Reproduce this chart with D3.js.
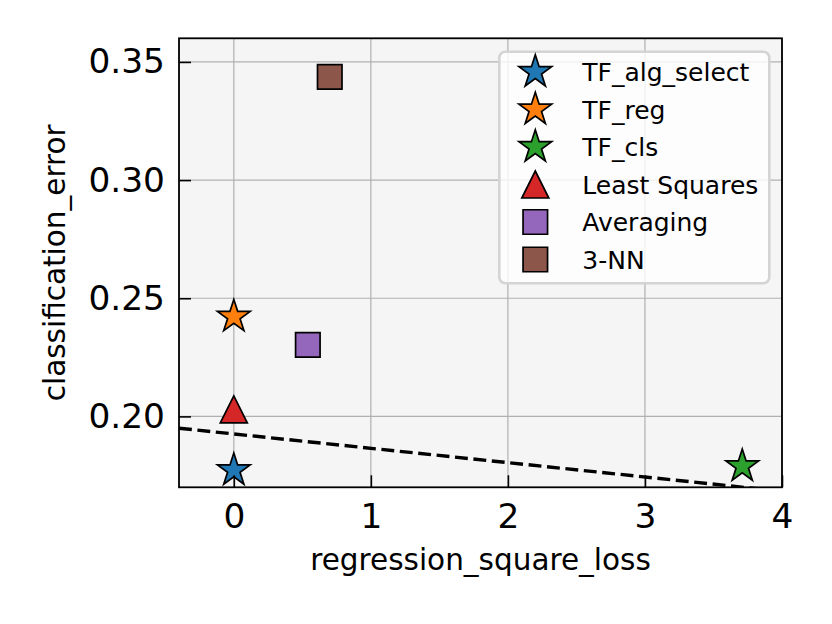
<!DOCTYPE html>
<html>
<head>
<meta charset="utf-8">
<script src="https://cdn.jsdelivr.net/npm/d3@7"></script>
<style>
  body { margin: 0; background: #fff; }
  svg { display: block; }
  text { font-family: "DejaVu Sans", sans-serif; fill: #000; }
</style>
</head>
<body>
<div id="chart"></div>
<script>
// data
var methods = ["TF_alg_select", "TF_reg", "TF_cls", "Least Squares", "Averaging", "3-NN"];
var lossValues = [0, 0, 3.71, 0, 0.54, 0.70];
var errorValues = [0.1772, 0.2422, 0.1789, 0.2030, 0.2303, 0.3437];
var markerShapes = ["star", "star", "star", "triangle", "square", "square"];
var markerColors = ["#1f77b4", "#ff7f0e", "#2ca02c", "#d62728", "#9467bd", "#8c564b"];
var xTicks = [0, 1, 2, 3, 4];
var yTicks = [0.20, 0.25, 0.30, 0.35];
var frontierX = [-0.4, 4];
var frontierY = [0.1950, 0.1683];

var width = 832;
var height = 624;
var margin = { left: 179, top: 38.3, right: 832 - 782, bottom: 624 - 487.3 };
var plotW = width - margin.left - margin.right;
var plotH = height - margin.top - margin.bottom;

var svg = d3.select("#chart")
    .append("svg")
    .attr("width", width)
    .attr("height", height);

var x = d3.scaleLinear().domain([-0.4, 4]).range([0, plotW]);
var y = d3.scaleLinear().domain([0.17, 0.36]).range([plotH, 0]);

var g = svg.append("g")
    .attr("transform", "translate(" + margin.left + "," + margin.top + ")");

g.append("rect")
    .attr("width", plotW)
    .attr("height", plotH)
    .attr("fill", "#f5f5f5");

g.append("clipPath").attr("id", "clip")
  .append("rect").attr("width", plotW).attr("height", plotH);

// grid
g.append("g").selectAll("line").data(xTicks).enter()
    .append("line")
    .attr("x1", d => x(d)).attr("x2", d => x(d))
    .attr("y1", 0).attr("y2", plotH)
    .attr("stroke", "#b0b0b0").attr("stroke-width", 1.2);
g.append("g").selectAll("line").data(yTicks).enter()
    .append("line")
    .attr("x1", 0).attr("x2", plotW)
    .attr("y1", d => y(d)).attr("y2", d => y(d))
    .attr("stroke", "#b0b0b0").attr("stroke-width", 1.2);

// dashed frontier
var lineGen = d3.line().x(d => x(d[0])).y(d => y(d[1]));
g.append("path")
    .datum(d3.zip(frontierX, frontierY))
    .attr("clip-path", "url(#clip)")
    .attr("d", lineGen)
    .attr("fill", "none")
    .attr("stroke", "#000")
    .attr("stroke-width", 3.4)
    .attr("stroke-dasharray", "12.9,5.6");

// marker shapes
function markerPath(shape) {
  if (shape === "star") {
    var R = 17.2;
    return d3.symbol().type(d3.symbolStar).size(R * R / 0.8908130915292852)();
  }
  if (shape === "triangle") {
    var h = 13.5;
    return "M0," + (-h) + "L" + (-h) + "," + h + "L" + h + "," + h + "Z";
  }
  return d3.symbol().type(d3.symbolSquare).size(24.5 * 24.5)();
}

var points = methods.map((m, i) => ({
  name: m, lx: lossValues[i], ly: errorValues[i],
  shape: markerShapes[i], color: markerColors[i]
}));

g.append("g").selectAll("path").data(points).enter()
    .append("path")
    .attr("transform", d => "translate(" + x(d.lx) + "," + y(d.ly) + ")")
    .attr("d", d => markerPath(d.shape))
    .attr("fill", d => d.color)
    .attr("stroke", "#000")
    .attr("stroke-width", 1.7)
    .attr("stroke-linejoin", "miter");

// axes, ticks pointing in
var xAxis = d3.axisBottom(x).tickValues(xTicks).tickSize(-12).tickSizeOuter(0).tickPadding(16)
    .tickFormat(d3.format("d"));
var yAxis = d3.axisLeft(y).tickValues(yTicks).tickSize(-12).tickSizeOuter(0).tickPadding(14)
    .tickFormat(d3.format(".2f"));

var gx = g.append("g").attr("transform", "translate(0," + plotH + ")").call(xAxis);
var gy = g.append("g").call(yAxis);
[gx, gy].forEach(a => {
  a.select(".domain").remove();
  a.selectAll(".tick line").attr("stroke", "#000").attr("stroke-width", 1.6);
  a.selectAll(".tick text").style("font-size", "34.4px").style("font-family", "DejaVu Sans");
});

// frame
g.append("rect")
    .attr("width", plotW)
    .attr("height", plotH)
    .attr("fill", "none")
    .attr("stroke", "#000")
    .attr("stroke-width", 1.8);

// axis labels
svg.append("text")
    .attr("x", margin.left + plotW / 2)
    .attr("y", 570)
    .attr("text-anchor", "middle")
    .style("font-size", "29.5px")
    .text("regression_square_loss");

svg.append("text")
    .attr("transform", "translate(65," + (margin.top + plotH / 2) + ") rotate(-90)")
    .attr("text-anchor", "middle")
    .style("font-size", "29.5px")
    .text("classification_error");

// legend
var legend = svg.append("g");
legend.append("rect")
    .attr("x", 499.3).attr("y", 51.7)
    .attr("width", 270).attr("height", 231.6)
    .attr("rx", 6).attr("ry", 6)
    .attr("fill", "#fff").attr("fill-opacity", 0.8)
    .attr("stroke", "#d4d4d4").attr("stroke-width", 2.6);

var rows = legend.selectAll("g.row").data(points).enter()
    .append("g")
    .attr("class", "row")
    .attr("transform", (d, i) => "translate(535.3," + (72 + i * 37.5) + ")");

rows.append("path")
    .attr("d", d => markerPath(d.shape))
    .attr("fill", d => d.color)
    .attr("stroke", "#000")
    .attr("stroke-width", 1.7);

rows.append("text")
    .attr("x", 47)
    .attr("y", 9)
    .style("font-size", "25px")
    .text(d => d.name);
</script>
</body>
</html>
